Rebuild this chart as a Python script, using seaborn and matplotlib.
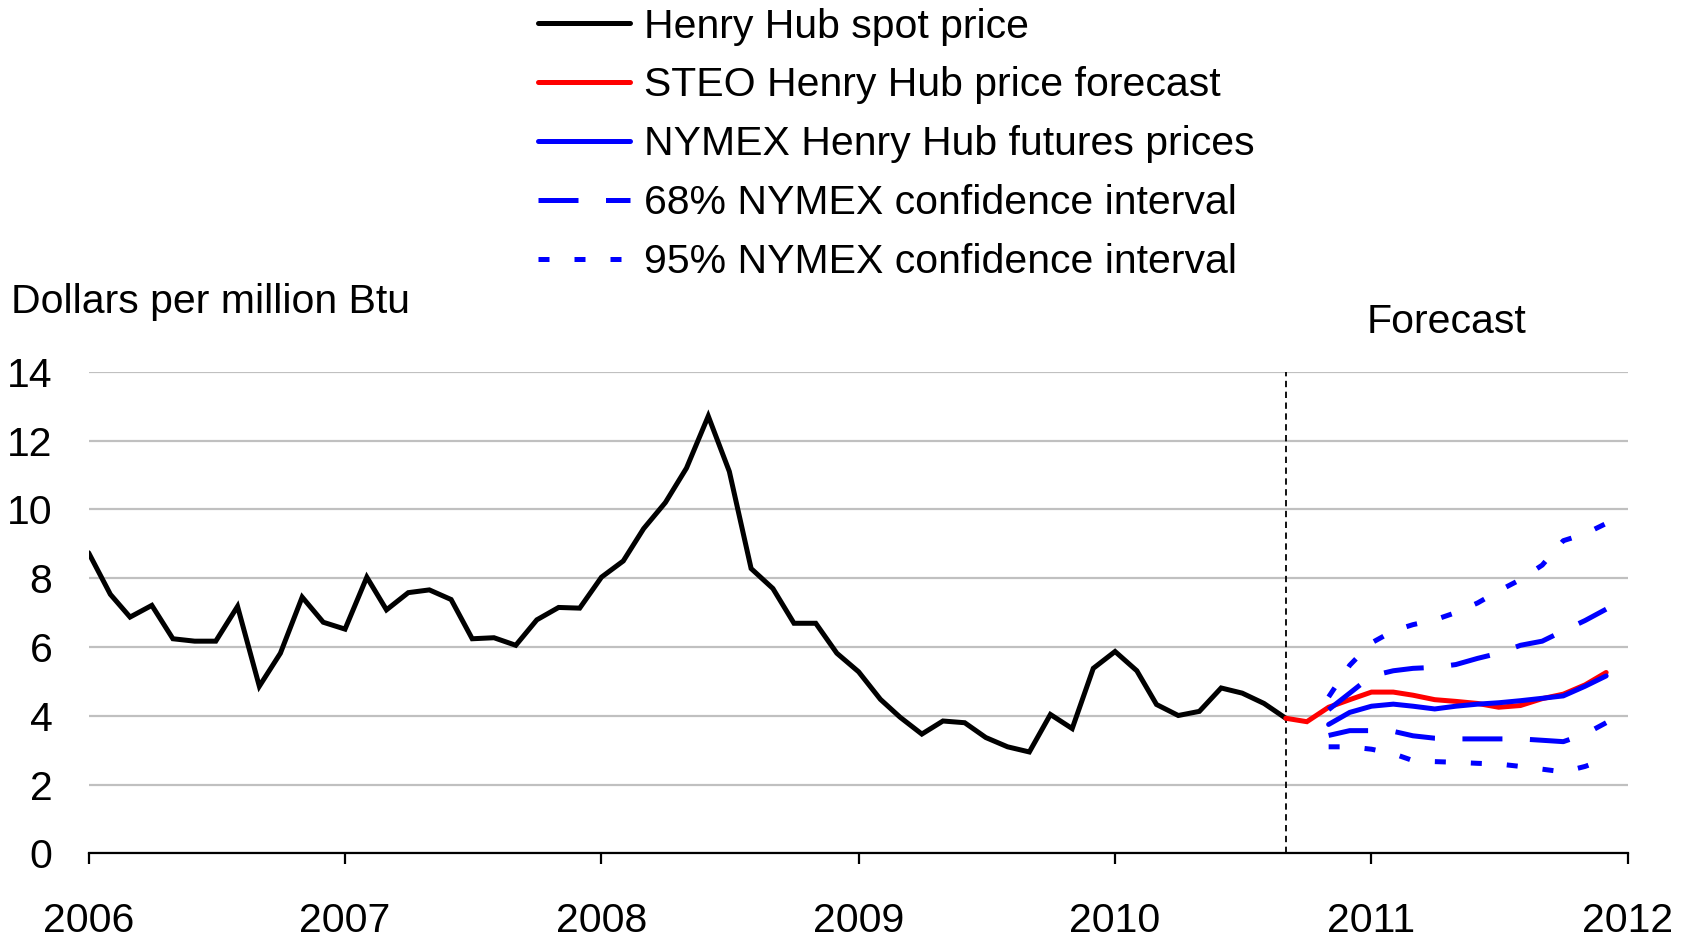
import matplotlib
matplotlib.use("Agg")
import matplotlib.pyplot as plt
import pandas as pd
import seaborn as sns

# Dados (dólares por milhão de Btu, mensal)
spot_start = "2006-01-01"
spot_price = [8.74, 7.53, 6.87, 7.21, 6.24, 6.17, 6.17, 7.18, 4.86, 5.82, 7.45, 6.72,
              6.52, 8.03, 7.08, 7.58, 7.66, 7.38, 6.24, 6.27, 6.05, 6.79, 7.15, 7.13,
              8.03, 8.50, 9.44, 10.20, 11.20, 12.71, 11.10, 8.28, 7.70, 6.69, 6.69, 5.82,
              5.28, 4.48, 3.96, 3.47, 3.85, 3.80, 3.37, 3.10, 2.95, 4.04, 3.63, 5.38,
              5.87, 5.31, 4.33, 4.01, 4.13, 4.81, 4.66, 4.36, 3.93]

steo_start = "2010-09-01"
steo_price = [3.93, 3.83, 4.25, 4.47, 4.69, 4.69, 4.60, 4.47, 4.42, 4.36, 4.25, 4.30,
              4.50, 4.63, 4.90, 5.26]

nymex_start = "2010-11-01"
nymex_price = [3.75, 4.10, 4.28, 4.34, 4.28, 4.20, 4.28, 4.34, 4.38, 4.44, 4.51, 4.58,
               4.86, 5.16]
ci68_upper = [4.18, 4.66, 5.16, 5.31, 5.38, 5.41, 5.49, 5.67, 5.82, 6.05, 6.17, 6.47,
              6.77, 7.10]
ci68_lower = [3.43, 3.57, 3.57, 3.55, 3.42, 3.35, 3.33, 3.33, 3.33, 3.33, 3.29, 3.25,
              3.47, 3.80]
ci95_upper = [4.55, 5.47, 6.12, 6.47, 6.65, 6.79, 7.00, 7.28, 7.63, 7.96, 8.38, 9.09,
              9.29, 9.59]
ci95_lower = [3.10, 3.10, 3.03, 2.90, 2.70, 2.67, 2.65, 2.62, 2.60, 2.53, 2.45, 2.37,
              2.53, 2.75]

forecast_start = "2010-09-01"
year_ticks = [2006, 2007, 2008, 2009, 2010, 2011, 2012]
y_ticks = [0, 2, 4, 6, 8, 10, 12, 14]

FS = 29.5
LW = 3.6
DASH_68 = (0, (8.0, 5.5))
DASH_95 = (0, (2.2, 5.0))


def monthly(start, values):
    """Monta DataFrame mensal a partir da data inicial."""
    return pd.DataFrame({
        "date": pd.date_range(start, periods=len(values), freq="MS"),
        "value": values,
    })


sns.set_style("white")
plt.rcParams["font.family"] = ["Liberation Sans", "DejaVu Sans"]
plt.rcParams["text.color"] = "black"
plt.rcParams["xtick.color"] = "black"
plt.rcParams["ytick.color"] = "black"

fig = plt.figure(figsize=(16.94, 9.38), dpi=100)
ax = fig.add_axes([0.0523, 0.0901, 0.9087, 0.5136])

# Séries
series = [
    (monthly(spot_start, spot_price), "black", "-", "Henry Hub spot price"),
    (monthly(steo_start, steo_price), "#ff0000", "-", "STEO Henry Hub price forecast"),
    (monthly(nymex_start, nymex_price), "#0000ff", "-", "NYMEX Henry Hub futures prices"),
    (monthly(nymex_start, ci68_upper), "#0000ff", DASH_68, "68% NYMEX confidence interval"),
    (monthly(nymex_start, ci68_lower), "#0000ff", DASH_68, "_ci68_lower"),
    (monthly(nymex_start, ci95_upper), "#0000ff", DASH_95, "95% NYMEX confidence interval"),
    (monthly(nymex_start, ci95_lower), "#0000ff", DASH_95, "_ci95_lower"),
]
for df, color, ls, label in series:
    sns.lineplot(data=df, x="date", y="value", ax=ax, color=color, linewidth=LW,
                 linestyle=ls, label=label, legend=False, solid_joinstyle="miter")

# Linha vertical do início da previsão
ax.axvline(pd.Timestamp(forecast_start), color="black", linewidth=1.3,
           linestyle=(0, (3.5, 2.5)), zorder=1)

# Eixos
ax.set_xlim(pd.Timestamp("2006-01-01"), pd.Timestamp("2012-01-01"))
ax.set_ylim(0, 14)
ax.set_xticks([pd.Timestamp(f"{y}-01-01") for y in year_ticks])
ax.set_xticklabels([str(y) for y in year_ticks])
ax.set_yticks(y_ticks)
ax.set_yticklabels([str(v) for v in y_ticks])
ax.set_xlabel("")
ax.set_ylabel("")
ax.yaxis.grid(True, color="#c0c0c0", linewidth=1.6)
ax.xaxis.grid(False)
ax.set_axisbelow(True)
for side in ["left", "right", "top"]:
    ax.spines[side].set_visible(False)
ax.spines["bottom"].set_color("black")
ax.spines["bottom"].set_linewidth(1.6)
ax.tick_params(axis="x", direction="out", length=8, width=1.6, color="black",
               labelsize=FS, pad=27, bottom=True)
ax.tick_params(axis="y", length=0, labelsize=FS, pad=26)

fig.text(10.8 / 1694, 1 - 302 / 938, "Dollars per million Btu", fontsize=FS,
         ha="left", va="center")
fig.text(1447 / 1694, 1 - 322 / 938, "Forecast", fontsize=FS, ha="center", va="center")

# Legenda no topo
handles, labels = ax.get_legend_handles_labels()
fig.legend(handles, labels, loc="upper left", bbox_to_anchor=(538 / 1694, 0.992),
           frameon=False, fontsize=FS, handlelength=2.25, handletextpad=0.33,
           labelspacing=0.51, borderpad=0, borderaxespad=0)

fig.savefig("out.png", dpi=100)
